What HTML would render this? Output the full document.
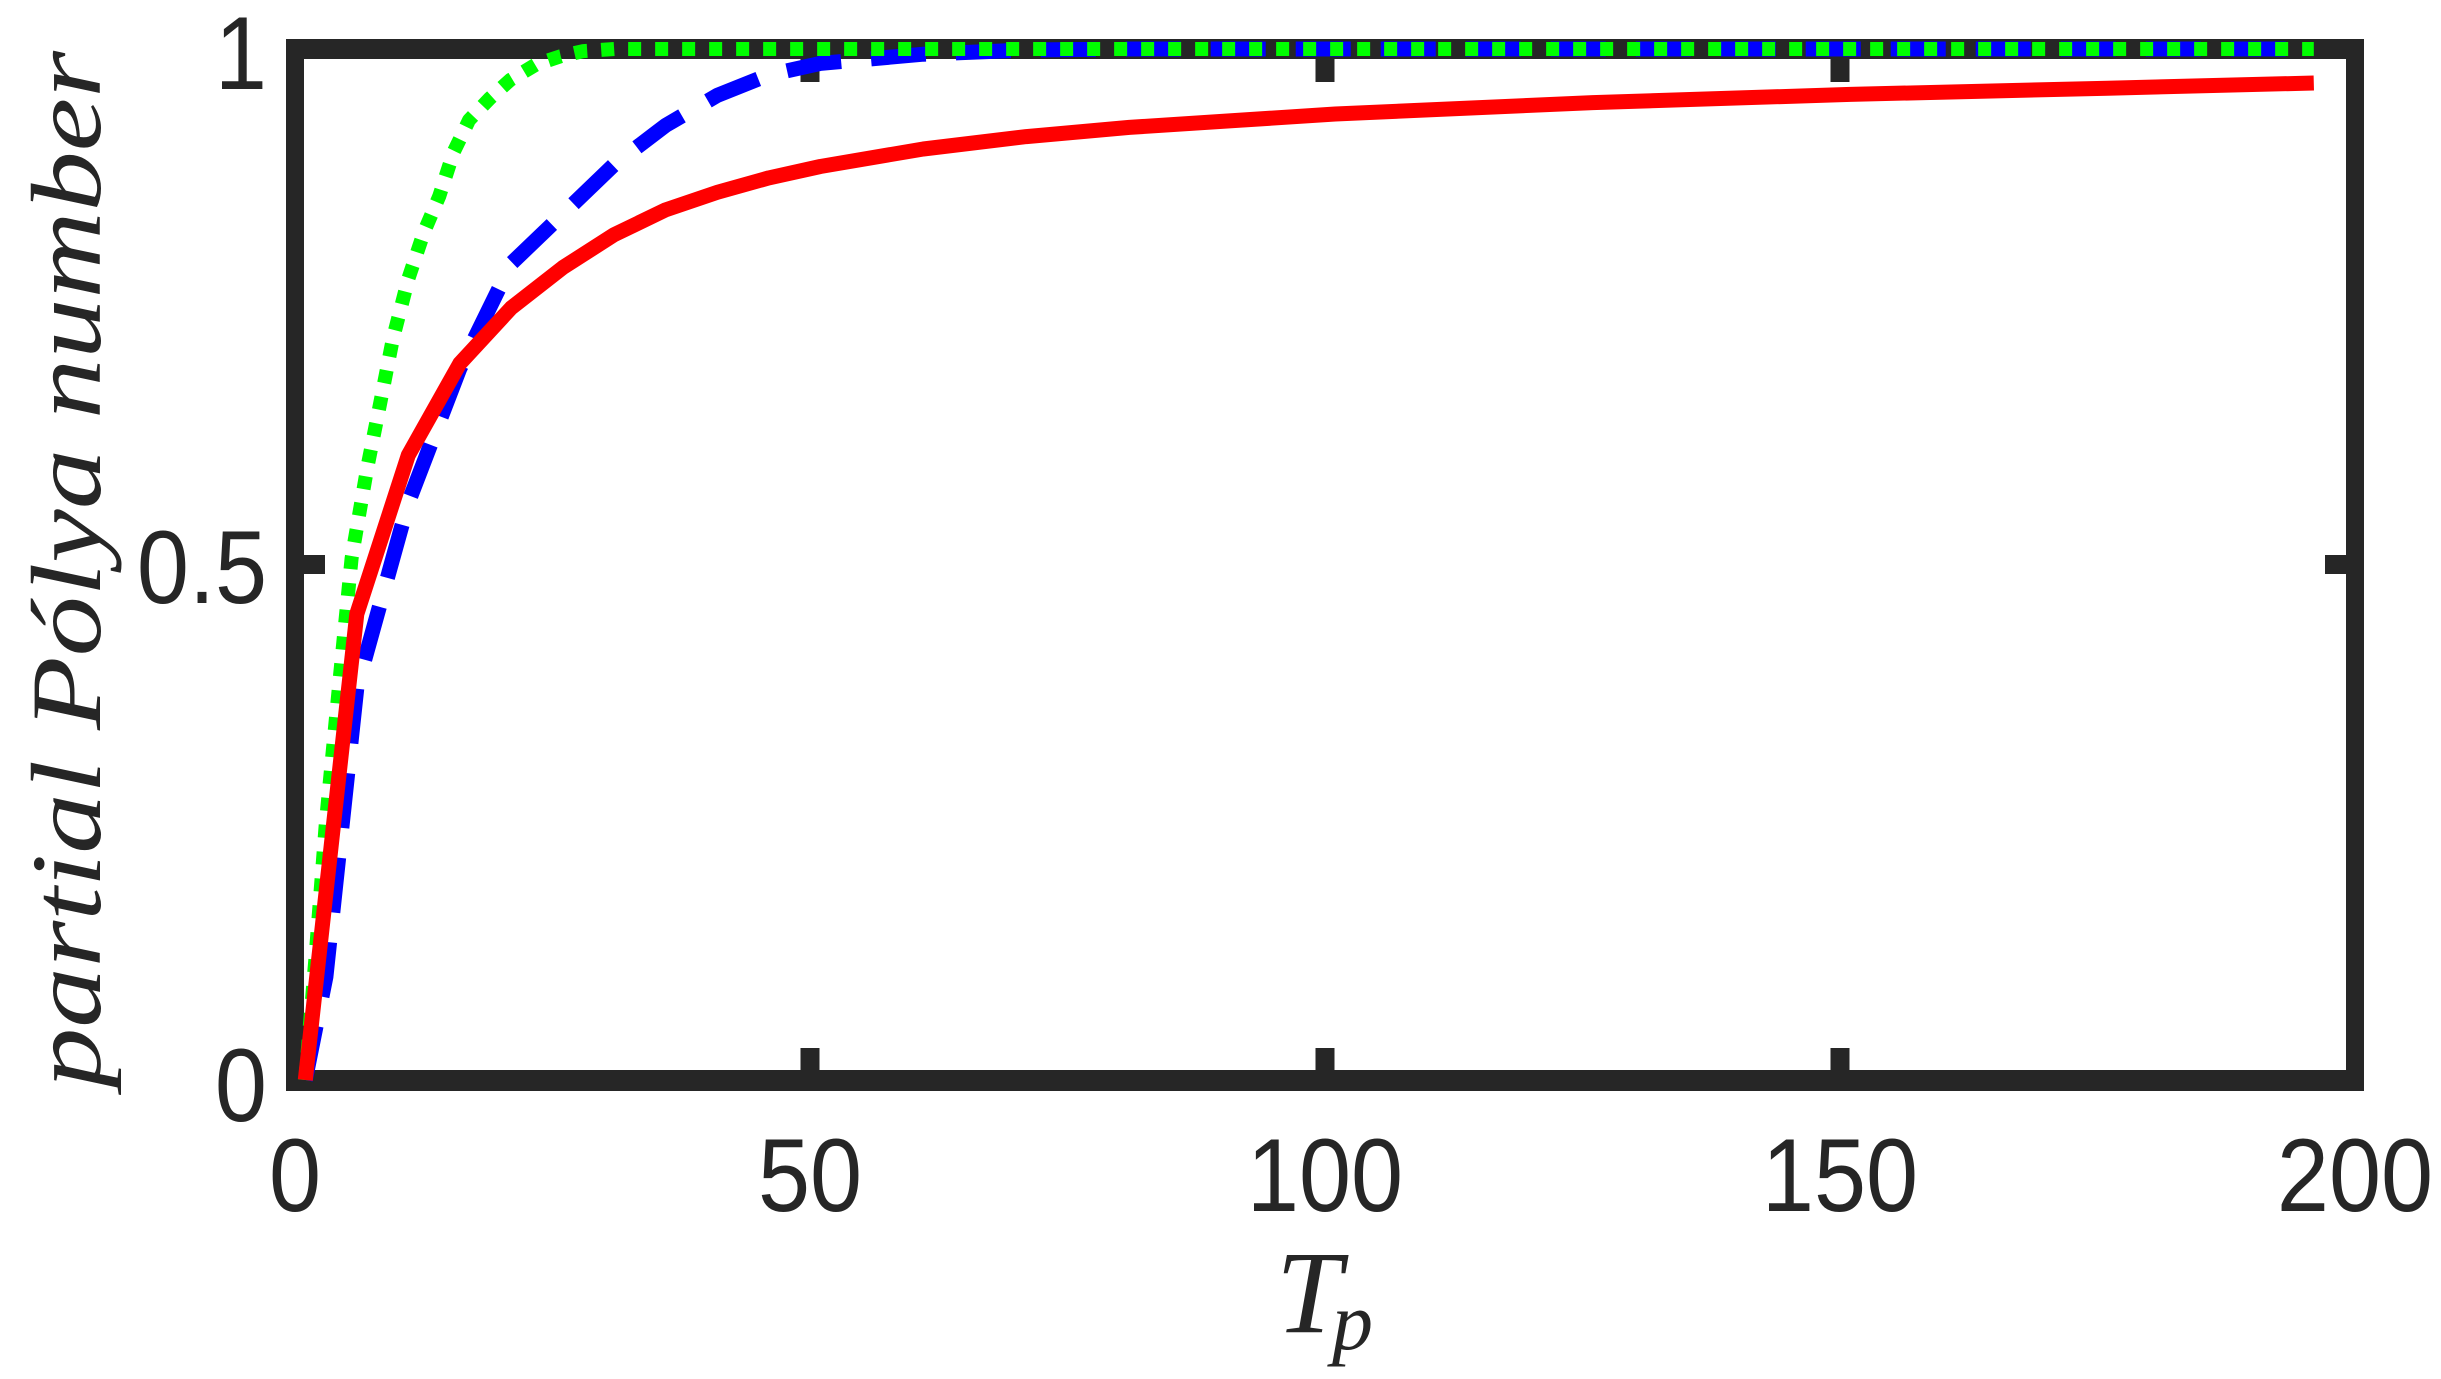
<!DOCTYPE html>
<html><head><meta charset="utf-8"><style>
html,body{margin:0;padding:0;background:#fff;}
svg{display:block;}
.sans{font-family:"Liberation Sans",Arial,sans-serif;}
.serif{font-family:"Liberation Serif","Times New Roman",serif;font-style:italic;}
</style></head><body>
<svg id="s" width="2441" height="1379" viewBox="0 0 2441 1379" xmlns="http://www.w3.org/2000/svg">
<rect width="2441" height="1379" fill="#fff"/>
<g id="axes" fill="#262626">
  <rect x="286" y="39" width="2078" height="20"/>
  <rect x="286" y="1070" width="2078" height="21"/>
  <rect x="286" y="39" width="18" height="1052"/>
  <rect x="2346" y="39" width="18" height="1052"/>
</g>
<g id="ticks" fill="#262626"></g>
<g class="sans" font-size="104" fill="#262626">
  <text transform="translate(267,89) scale(0.9,1)" text-anchor="end">1</text>
  <text transform="translate(267,603) scale(0.9,1)" text-anchor="end">0.5</text>
  <text transform="translate(267,1121) scale(0.9,1)" text-anchor="end">0</text>
  <text transform="translate(295,1211) scale(0.9,1)" text-anchor="middle">0</text>
  <text transform="translate(810,1211) scale(0.9,1)" text-anchor="middle">50</text>
  <text transform="translate(1325,1211) scale(0.9,1)" text-anchor="middle">100</text>
  <text transform="translate(1840,1211) scale(0.9,1)" text-anchor="middle">150</text>
  <text transform="translate(2355,1211) scale(0.9,1)" text-anchor="middle">200</text>
</g>
<text class="serif" x="1276" y="1332" font-size="118" fill="#262626">T</text>
<text class="serif" x="1332" y="1349" font-size="82" fill="#262626">p</text>
<text class="serif" transform="translate(100,1088) rotate(-90)" x="0" y="0" textLength="1037" lengthAdjust="spacingAndGlyphs" font-size="100" fill="#262626">partial Pólya number</text>
<g id="lines" fill="none" stroke-linejoin="round"></g>
</svg>
<script>
(function(){
  var X=function(t){return 295+t*10.3;}, Y=function(v){return 1080-v*1031;};
  var ns="http://www.w3.org/2000/svg";
  var tk=document.getElementById('ticks');
  function r(x,y,w,h){var e=document.createElementNS(ns,'rect');e.setAttribute('x',x);e.setAttribute('y',y);e.setAttribute('width',w);e.setAttribute('height',h);tk.appendChild(e);}
  [50,100,150].forEach(function(t){var x=X(t)-9.5;r(x,1048,19,30);r(x,50,19,32);});
  r(295,555,30,19);r(2325,555,30,19);
  var red=[[1,0],[6,0.452],[11,0.606],[16,0.695],[21,0.749],[26,0.788],[31,0.82],[36,0.844],[41,0.861],[46,0.875],[51,0.886],[61,0.903],[71,0.915],[81,0.924],[101,0.937],[126,0.948],[151,0.956],[176,0.962],[196,0.967]];
  var blue=[[1,0],[3,0.1],[6,0.38],[11,0.56],[16,0.69],[21,0.792],[26,0.84],[31,0.888],[36,0.926],[41,0.955],[46,0.975],[51,0.986],[61,0.995],[71,0.999],[81,1],[196,1]];
  var green=[[1,0],[2,0.12],[3,0.25],[4.3,0.385],[5.5,0.506],[7,0.593],[8.3,0.658],[9.5,0.719],[11,0.777],[12.5,0.822],[14,0.857],[15.4,0.9],[16.9,0.931],[18.9,0.952],[20.9,0.97],[23.4,0.985],[25.8,0.993],[28,0.998],[31,1],[196,1]];
  var g=document.getElementById('lines');
  function line(pts,col,dash,w){var p=document.createElementNS(ns,'polyline');
    p.setAttribute('points',pts.map(function(a){return X(a[0]).toFixed(1)+','+Y(a[1]).toFixed(1);}).join(' '));
    p.setAttribute('stroke',col);p.setAttribute('stroke-width',w);if(dash)p.setAttribute('stroke-dasharray',dash);g.appendChild(p);}
  line(blue,'#0000ff','55 30',15);
  line(green,'#00ff00','13 14',14);
  line(red,'#ff0000','',15);
})();
</script>
</body></html>
